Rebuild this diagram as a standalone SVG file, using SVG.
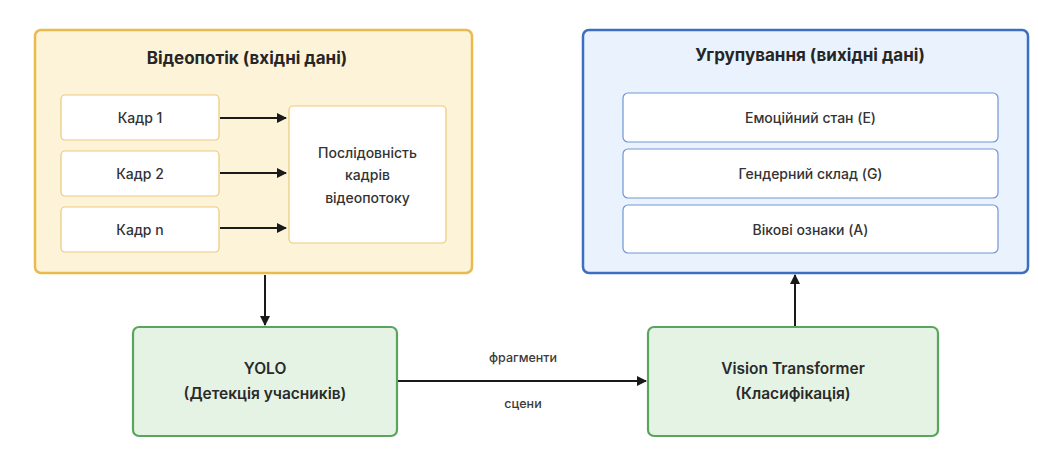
<svg xmlns="http://www.w3.org/2000/svg" width="1038" height="457" viewBox="0 0 1038 457">
  <defs>
    <marker id="arrow" viewBox="0 0 10 10" refX="9" refY="5" markerWidth="10" markerHeight="10" markerUnits="userSpaceOnUse" orient="auto">
      <path d="M0,0 L10,5 L0,10 z" fill="#1a1a1a"/>
    </marker>
    <style>
      text { font-family: Inter, "Noto Sans", "DejaVu Sans", sans-serif; fill: #262626; text-anchor: middle; dominant-baseline: central; }
      .title { font-size: 17px; font-weight: 700; }
      .lbl { font-size: 14px; font-weight: 500; fill: #333333; }
      .big { font-size: 15.5px; font-weight: 600; fill: #2a2a2a; }
      .small { font-size: 12.5px; font-weight: 500; fill: #3a3a3a; }
      .ybox { fill: #fdf3d8; stroke: #e9bb4c; stroke-width: 2.5; }
      .yitem { fill: #ffffff; stroke: #ecc97a; stroke-width: 1.2; }
      .bbox { fill: #eaf3fd; stroke: #3b6fc2; stroke-width: 2.5; }
      .bitem { fill: #ffffff; stroke: #6e95d4; stroke-width: 1.2; }
      .gbox { fill: #e5f3e4; stroke: #5aa55c; stroke-width: 2.2; }
      .edge { stroke: #1a1a1a; stroke-width: 2; fill: none; marker-end: url(#arrow); }
    </style>
  </defs>

  <rect width="1038" height="457" fill="#ffffff"/>

  <!-- input video stream -->
  <g id="input">
    <rect class="ybox" x="35" y="30" width="437" height="243" rx="6"/>
    <text class="title" x="247" y="58">Відеопотік (вхідні дані)</text>
  </g>
  <g id="frame1">
    <rect class="yitem" x="61" y="95" width="158" height="45" rx="4"/>
    <text class="lbl" x="140" y="117.5">Кадр 1</text>
  </g>
  <g id="frame2">
    <rect class="yitem" x="61" y="151" width="158" height="45" rx="4"/>
    <text class="lbl" x="140" y="173.5">Кадр 2</text>
  </g>
  <g id="framen">
    <rect class="yitem" x="61" y="207" width="158" height="45" rx="4"/>
    <text class="lbl" x="140" y="229.5">Кадр n</text>
  </g>
  <g id="sequence">
    <rect class="yitem" x="289" y="106" width="157" height="137" rx="4"/>
    <text class="lbl" x="367.5" y="152">Послідовність</text>
    <text class="lbl" x="367.5" y="174.5">кадрів</text>
    <text class="lbl" x="367.5" y="197">відеопотоку</text>
  </g>

  <!-- output grouping -->
  <g id="output">
    <rect class="bbox" x="583" y="30" width="445" height="243" rx="6"/>
    <text class="title" x="810" y="55">Угрупування (вихідні дані)</text>
  </g>
  <g id="emotion">
    <rect class="bitem" x="623" y="93" width="375" height="49" rx="5"/>
    <text class="lbl" x="810.5" y="117.5">Емоційний стан (E)</text>
  </g>
  <g id="gender">
    <rect class="bitem" x="623" y="149" width="375" height="49" rx="5"/>
    <text class="lbl" x="810.5" y="173.5">Гендерний склад (G)</text>
  </g>
  <g id="age">
    <rect class="bitem" x="623" y="205" width="375" height="48" rx="5"/>
    <text class="lbl" x="810.5" y="229">Вікові ознаки (A)</text>
  </g>

  <!-- processing stages -->
  <g id="yolo">
    <rect class="gbox" x="133" y="327" width="264" height="109" rx="6"/>
    <text class="big" x="265" y="368">YOLO</text>
    <text class="big" x="265" y="393">(Детекція учасників)</text>
  </g>
  <g id="vit">
    <rect class="gbox" x="648" y="327" width="290" height="109" rx="6"/>
    <text class="big" x="793" y="368">Vision Transformer</text>
    <text class="big" x="793" y="393">(Класифікація)</text>
  </g>

  <!-- connectors -->
  <g id="connectors">
    <line class="edge" x1="220" y1="118" x2="286" y2="118"/>
    <line class="edge" x1="220" y1="173" x2="286" y2="173"/>
    <line class="edge" x1="220" y1="228" x2="286" y2="228"/>
    <line class="edge" x1="265" y1="275" x2="265" y2="325"/>
    <line class="edge" x1="398" y1="381" x2="646" y2="381"/>
    <line class="edge" x1="795" y1="326" x2="795" y2="275"/>
    <text class="small" x="523" y="357">фрагменти</text>
    <text class="small" x="523" y="403">сцени</text>
  </g>
</svg>
